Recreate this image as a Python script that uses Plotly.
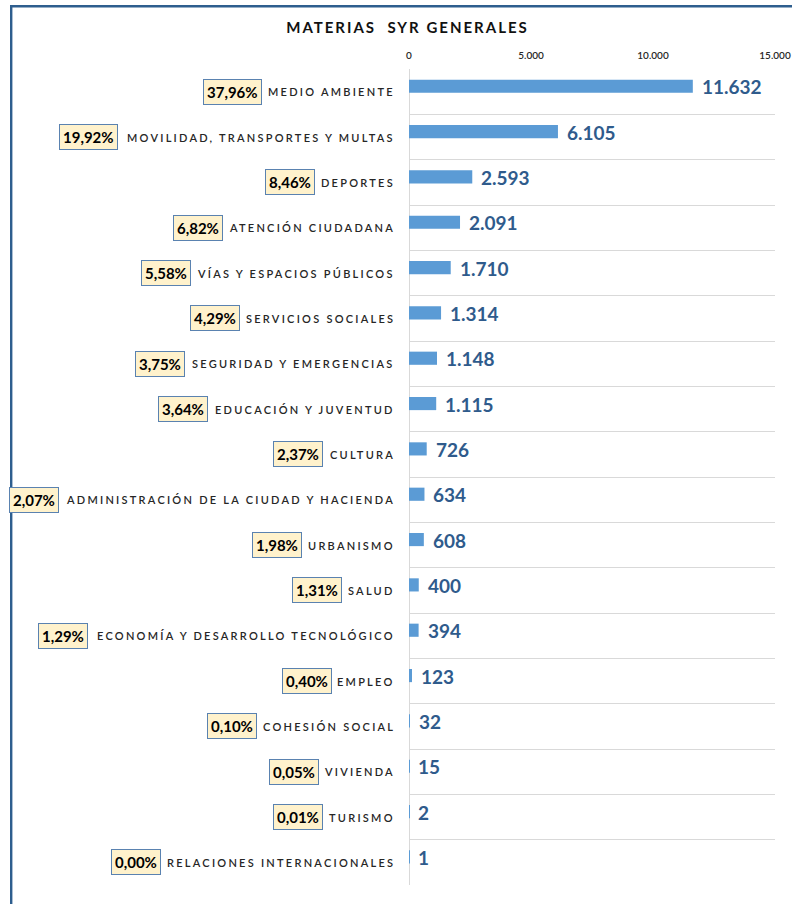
import glob
import os
import struct
import plotly.graph_objects as go

# ---------------- data ----------------
categories = [
    "MEDIO AMBIENTE",
    "MOVILIDAD, TRANSPORTES Y MULTAS",
    "DEPORTES",
    "ATENCIÓN CIUDADANA",
    "VÍAS Y ESPACIOS PÚBLICOS",
    "SERVICIOS SOCIALES",
    "SEGURIDAD Y EMERGENCIAS",
    "EDUCACIÓN Y JUVENTUD",
    "CULTURA",
    "ADMINISTRACIÓN DE LA CIUDAD Y HACIENDA",
    "URBANISMO",
    "SALUD",
    "ECONOMÍA Y DESARROLLO TECNOLÓGICO",
    "EMPLEO",
    "COHESIÓN SOCIAL",
    "VIVIENDA",
    "TURISMO",
    "RELACIONES INTERNACIONALES",
]
values = [11632, 6105, 2593, 2091, 1710, 1314, 1148, 1115, 726, 634, 608, 400, 394, 123, 32, 15, 2, 1]
shares = [37.96, 19.92, 8.46, 6.82, 5.58, 4.29, 3.75, 3.64, 2.37, 2.07, 1.98, 1.31, 1.29, 0.40, 0.10, 0.05, 0.01, 0.00]
x_ticks = [0, 5000, 10000, 15000]
title_text = "MATERIAS\u00a0 SYR GENERALES"

# ---------------- styling / layout constants ----------------
W, H = 792, 904
ML, MR, MT, MB = 409, 17, 69, 19
BAR_COLOR = "#5B9BD5"
VAL_COLOR = "#2F5B8C"
LABEL_COLOR = "#262626"
FONT = "Lato"
LAB_FS = 11
LAB_LS = 2.25
LAB_GAP = 16
PCT_FS = 15
PCT_GAP = 6


def fmt_thousands(v):
    return f"{v:,}".replace(",", ".")


def fmt_pct(p):
    return f"{p:.2f}".replace(".", ",") + "%"


# ---------------- text width measurement from the installed font ----------------
def find_font(cands):
    dirs = ["/usr/share/fonts", "/usr/local/share/fonts",
            os.path.expanduser("~/.fonts"), os.path.expanduser("~/.local/share/fonts")]
    for c in cands:
        for d in dirs:
            r = glob.glob(os.path.join(d, "**", c), recursive=True)
            if r:
                return r[0]
    return None


def load_advances(path):
    with open(path, "rb") as f:
        data = f.read()
    u16 = lambda o: struct.unpack(">H", data[o:o + 2])[0]
    i16 = lambda o: struct.unpack(">h", data[o:o + 2])[0]
    u32 = lambda o: struct.unpack(">I", data[o:o + 4])[0]
    off = 0
    if data[:4] == b"ttcf":
        off = u32(12)
    num = u16(off + 4)
    tables = {}
    for i in range(num):
        rec = off + 12 + 16 * i
        tables[data[rec:rec + 4].decode("latin1")] = u32(rec + 8)
    upem = u16(tables["head"] + 18)
    nhm = u16(tables["hhea"] + 34)
    hm = tables["hmtx"]
    adv = [u16(hm + 4 * i) for i in range(nhm)]
    cm = tables["cmap"]
    sub = None
    for i in range(u16(cm + 2)):
        pid, eid = u16(cm + 4 + 8 * i), u16(cm + 6 + 8 * i)
        so = cm + u32(cm + 8 + 8 * i)
        fmt = u16(so)
        if pid == 3 and eid in (1, 10) and fmt in (4, 12):
            sub = (so, fmt)
            if fmt == 4:
                break

    def glyph(code):
        s, fmt = sub
        if fmt == 4:
            segx2 = u16(s + 6)
            ends = s + 14
            starts = ends + segx2 + 2
            deltas = starts + segx2
            ranges = deltas + segx2
            for i in range(segx2 // 2):
                end = u16(ends + 2 * i)
                if code <= end:
                    start = u16(starts + 2 * i)
                    if code < start:
                        return 0
                    delta = i16(deltas + 2 * i)
                    ro = u16(ranges + 2 * i)
                    if ro == 0:
                        return (code + delta) & 0xFFFF
                    g = u16(ranges + 2 * i + ro + 2 * (code - start))
                    return (g + delta) & 0xFFFF if g else 0
            return 0
        ng = u32(s + 12)
        for i in range(ng):
            a = s + 16 + 12 * i
            if u32(a) <= code <= u32(a + 4):
                return u32(a + 8) + code - u32(a)
        return 0

    def width_em(ch):
        g = glyph(ord(ch))
        return adv[min(g, nhm - 1)] / upem

    return width_em


def fallback_width(ch):
    if ch == " ":
        return 0.19
    if ch in ",.":
        return 0.24
    if ch in "IÍ":
        return 0.29
    if ch in "MW":
        return 0.88
    if ch == "%":
        return 0.80
    if ch.isdigit():
        return 0.58
    return 0.66


_measure = fallback_width
try:
    _fp = find_font(["Lato-Semibold.ttf", "Lato-SemiBold.ttf", "Lato-Bold.ttf", "Lato-Regular.ttf"])
    if _fp:
        _measure = load_advances(_fp)
except Exception:
    _measure = fallback_width


def text_width(s, size, ls=0.0):
    return sum(_measure(c) for c in s) * size + ls * len(s)


# ---------------- figure ----------------
n = len(categories)
ypos = list(range(n))

fig = go.Figure()
fig.add_trace(go.Bar(
    x=values, y=ypos, orientation="h",
    marker=dict(color=BAR_COLOR, line=dict(width=0)),
    width=0.29, offset=-0.265,
    hoverinfo="x+y",
))

annotations = []
for i, (cat, v, p) in enumerate(zip(categories, values, shares)):
    # value label
    annotations.append(dict(
        x=v, y=i, xref="x", yref="y", text=fmt_thousands(v), showarrow=False,
        xanchor="left", yanchor="middle", xshift=7, yshift=5,
        font=dict(family=FONT, size=19, color=VAL_COLOR, weight="bold"),
    ))
    # category label (letter-spaced)
    lab_shift = -(LAB_GAP - LAB_LS)
    annotations.append(dict(
        x=0, y=i, xref="x", yref="y",
        text=f"<span style='letter-spacing:{LAB_LS}px'>{cat}</span>",
        showarrow=False, xanchor="right", yanchor="middle", xshift=lab_shift,
        borderpad=0, borderwidth=0,
        font=dict(family=FONT, size=LAB_FS, color=LABEL_COLOR, weight=600),
    ))
    # percentage box
    lw = text_width(cat, LAB_FS, LAB_LS)
    annotations.append(dict(
        x=0, y=i, xref="x", yref="y", text=fmt_pct(p), showarrow=False,
        xanchor="right", yanchor="middle", xshift=lab_shift - lw - PCT_GAP,
        bgcolor="#FFF2CC", bordercolor="#5A82B0", borderwidth=1, borderpad=3,
        font=dict(family=FONT, size=PCT_FS, color="#000000", weight="bold"),
    ))


def px_to_paper_x(px):
    return (px - ML) / (W - ML - MR)


def px_to_paper_y(py):
    return (H - MB - py) / (H - MT - MB)


shapes = [dict(
    type="rect", xref="paper", yref="paper",
    x0=px_to_paper_x(11.2), x1=px_to_paper_x(W + 20),
    y0=px_to_paper_y(H + 20), y1=px_to_paper_y(6.2),
    line=dict(color="#2E5E8E", width=2.4), fillcolor="rgba(0,0,0,0)", layer="above",
)]

fig.update_layout(
    template="none",
    width=W, height=H,
    margin=dict(l=ML, r=MR, t=MT, b=MB, pad=0, autoexpand=False),
    paper_bgcolor="white", plot_bgcolor="white",
    showlegend=False,
    title=dict(
        text=f"<span style='letter-spacing:2px'>{title_text}</span>",
        x=407.5 / W, xanchor="center", xref="container",
        y=1 - 28 / H, yanchor="middle", yref="container",
        font=dict(family=FONT, size=15, color="#111111", weight="bold"),
    ),
    xaxis=dict(
        side="top", range=[0, x_ticks[-1]], tickmode="array",
        tickvals=x_ticks, ticktext=[fmt_thousands(t) for t in x_ticks],
        showgrid=False, zeroline=True, zerolinecolor="#D9D9D9", zerolinewidth=1,
        showline=False, ticks="", ticklabelstandoff=7, automargin=False,
        tickfont=dict(family=FONT, size=10, color="#262626", weight=600),
        fixedrange=True,
    ),
    yaxis=dict(
        range=[n - 0.5, -0.5], tickmode="array",
        tickvals=[k - 0.5 for k in range(n + 1)],
        showticklabels=False, showgrid=True, gridcolor="#D9D9D9", gridwidth=1,
        zeroline=False, ticks="", fixedrange=True, automargin=False,
    ),
    annotations=annotations,
    shapes=shapes,
)

fig.write_html("out.html")
